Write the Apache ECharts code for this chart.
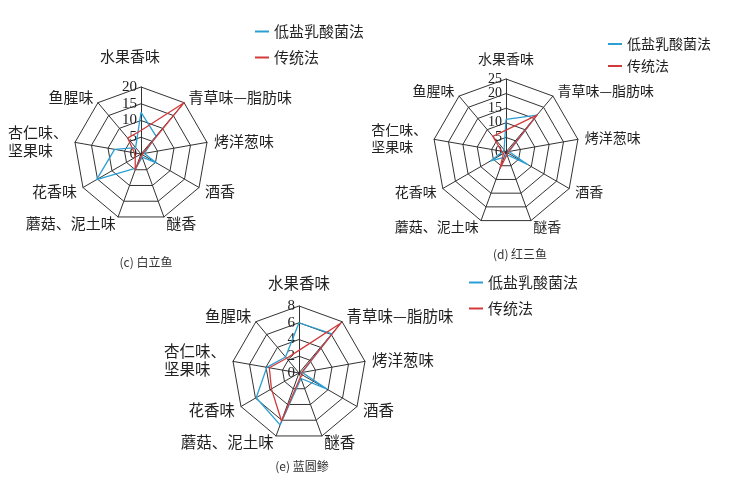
<!DOCTYPE html>
<html>
<head>
<meta charset="utf-8">
<script src="https://cdn.jsdelivr.net/npm/echarts@6/dist/echarts.min.js"></script>
<style>
  html, body { margin: 0; padding: 0; background: #fff; }
  #main { width: 741px; height: 485px; }
</style>
</head>
<body>
<div id="main"></div>
<script>
// 指标（顺时针，从顶部开始）
var aromaNames = ['水果香味', '青草味—脂肪味', '烤洋葱味', '酒香', '醚香', '蘑菇、泥土味', '花香味', '杏仁味、坚果味', '鱼腥味'];
var seriesNames = ['低盐乳酸菌法', '传统法'];
var fishNames = ['(c) 白立鱼', '(d) 红三鱼', '(e) 蓝圆鲹'];

// (c) 白立鱼
var baiLiYuLow = [12.4, 7, 1, 5.5, 1, 4.5, 15.3, 8, 2.5];
var baiLiYuTrad = [7, 20, 0.5, 0.5, 0.5, 5, 2, 2, 6.2];
// (d) 红三鱼
var hongSanYuLow = [11.2, 16.5, 1, 8.5, 1, 2, 6, 1, 1];
var hongSanYuTrad = [7.5, 16.5, 0.8, 0.8, 1, 6, 1, 1.5, 7];
// (e) 蓝圆鲹
var lanYuanShenLow = [6, 6.1, 0.4, 3.8, 0.7, 6.6, 5.9, 3.9, 2.5];
var lanYuanShenTrad = [2.7, 7.8, 0.3, 0.5, 0.5, 6.1, 3.8, 3.6, 2.3];

var axisMax = [20, 25, 8];
var splitNums = [4, 5, 4];

var blue = '#2a9fd3';
var red = '#d23a3a';

// echarts 雷达图默认逆时针排列，这里转一下
function ccw (arr) {
  return [arr[0]].concat(arr.slice(1).reverse());
}

var cfg = [
  { center: [141, 154], radius: 67, font: 15, topPad: [0, 22, 16, 0], legend: { left: 250, top: 19 }, title: [141, 251], fs: 15 },
  { center: [506, 152], radius: 73, font: 14, topPad: [0, 0, 6, 0], legend: { left: 603, top: 32 }, title: [515, 243], fs: 14 },
  { center: [299, 373], radius: 67, font: 15.5, topPad: [0, 0, 8, 0], legend: { left: 464, top: 270 }, title: [297, 455], fs: 15 }
];
var lows = [baiLiYuLow, hongSanYuLow, lanYuanShenLow];
var trads = [baiLiYuTrad, hongSanYuTrad, lanYuanShenTrad];

var radars = [], series = [], legends = [], titles = [];
cfg.forEach(function (c, k) {
  var fz = c.font;
  radars.push({
    center: c.center,
    radius: c.radius,
    shape: 'polygon',
    startAngle: 90,
    splitNumber: splitNums[k],
    nameGap: 7,
    indicator: ccw(aromaNames).map(function (n, i) {
      return {
        name: n, min: 0, max: axisMax[k],
        axisLabel: i === 0
          ? { show: true, color: '#222', fontFamily: 'Liberation Serif', fontSize: c.fs, margin: 4 }
          : { show: false }
      };
    }),
    axisName: {
      color: '#222',
      fontSize: fz,
      fontFamily: 'Noto Sans CJK SC',
      formatter: function (name) {
        if (name === '水果香味') return '{t|' + name + '}';
        if (name === '杏仁味、坚果味') return '{a|杏仁味、}\n{a|坚果味}';
        return name;
      },
      rich: {
        t: { padding: c.topPad, fontSize: fz, fontFamily: 'Noto Sans CJK SC', color: '#222' },
        a: { width: fz * 4, align: 'left', fontSize: fz, lineHeight: fz + 3, fontFamily: 'Noto Sans CJK SC', color: '#222' }
      }
    },
    splitLine: { lineStyle: { color: '#333', width: 1 } },
    splitArea: { show: false },
    axisLine: { lineStyle: { color: '#333', width: 1 } },
    axisTick: { show: false },
    axisLabel: { show: false }
  });
  series.push({
    type: 'radar',
    radarIndex: k,
    symbol: 'none',
    data: [
      { name: seriesNames[0], value: ccw(lows[k]), lineStyle: { color: blue, width: 1.3 }, itemStyle: { color: blue } },
      { name: seriesNames[1], value: ccw(trads[k]), lineStyle: { color: red, width: 1.3 }, itemStyle: { color: red } }
    ]
  });
  legends.push({
    left: c.legend.left,
    top: c.legend.top,
    orient: 'vertical',
    icon: 'rect',
    itemWidth: 14,
    itemHeight: 2,
    itemGap: k === 1 ? 8 : 11,
    textStyle: { color: '#222', fontSize: c.fs, fontFamily: 'Noto Sans CJK SC' },
    data: seriesNames
  });
  titles.push({
    text: fishNames[k],
    left: c.title[0],
    top: c.title[1],
    textAlign: 'center',
    textStyle: { color: '#333', fontSize: 12, fontWeight: 'normal', fontFamily: 'Noto Sans CJK SC' }
  });
});

var chart = echarts.init(document.getElementById('main'));
chart.setOption({
  backgroundColor: '#fff',
  animation: false,
  title: titles,
  legend: legends,
  radar: radars,
  series: series
});
</script>
</body>
</html>
